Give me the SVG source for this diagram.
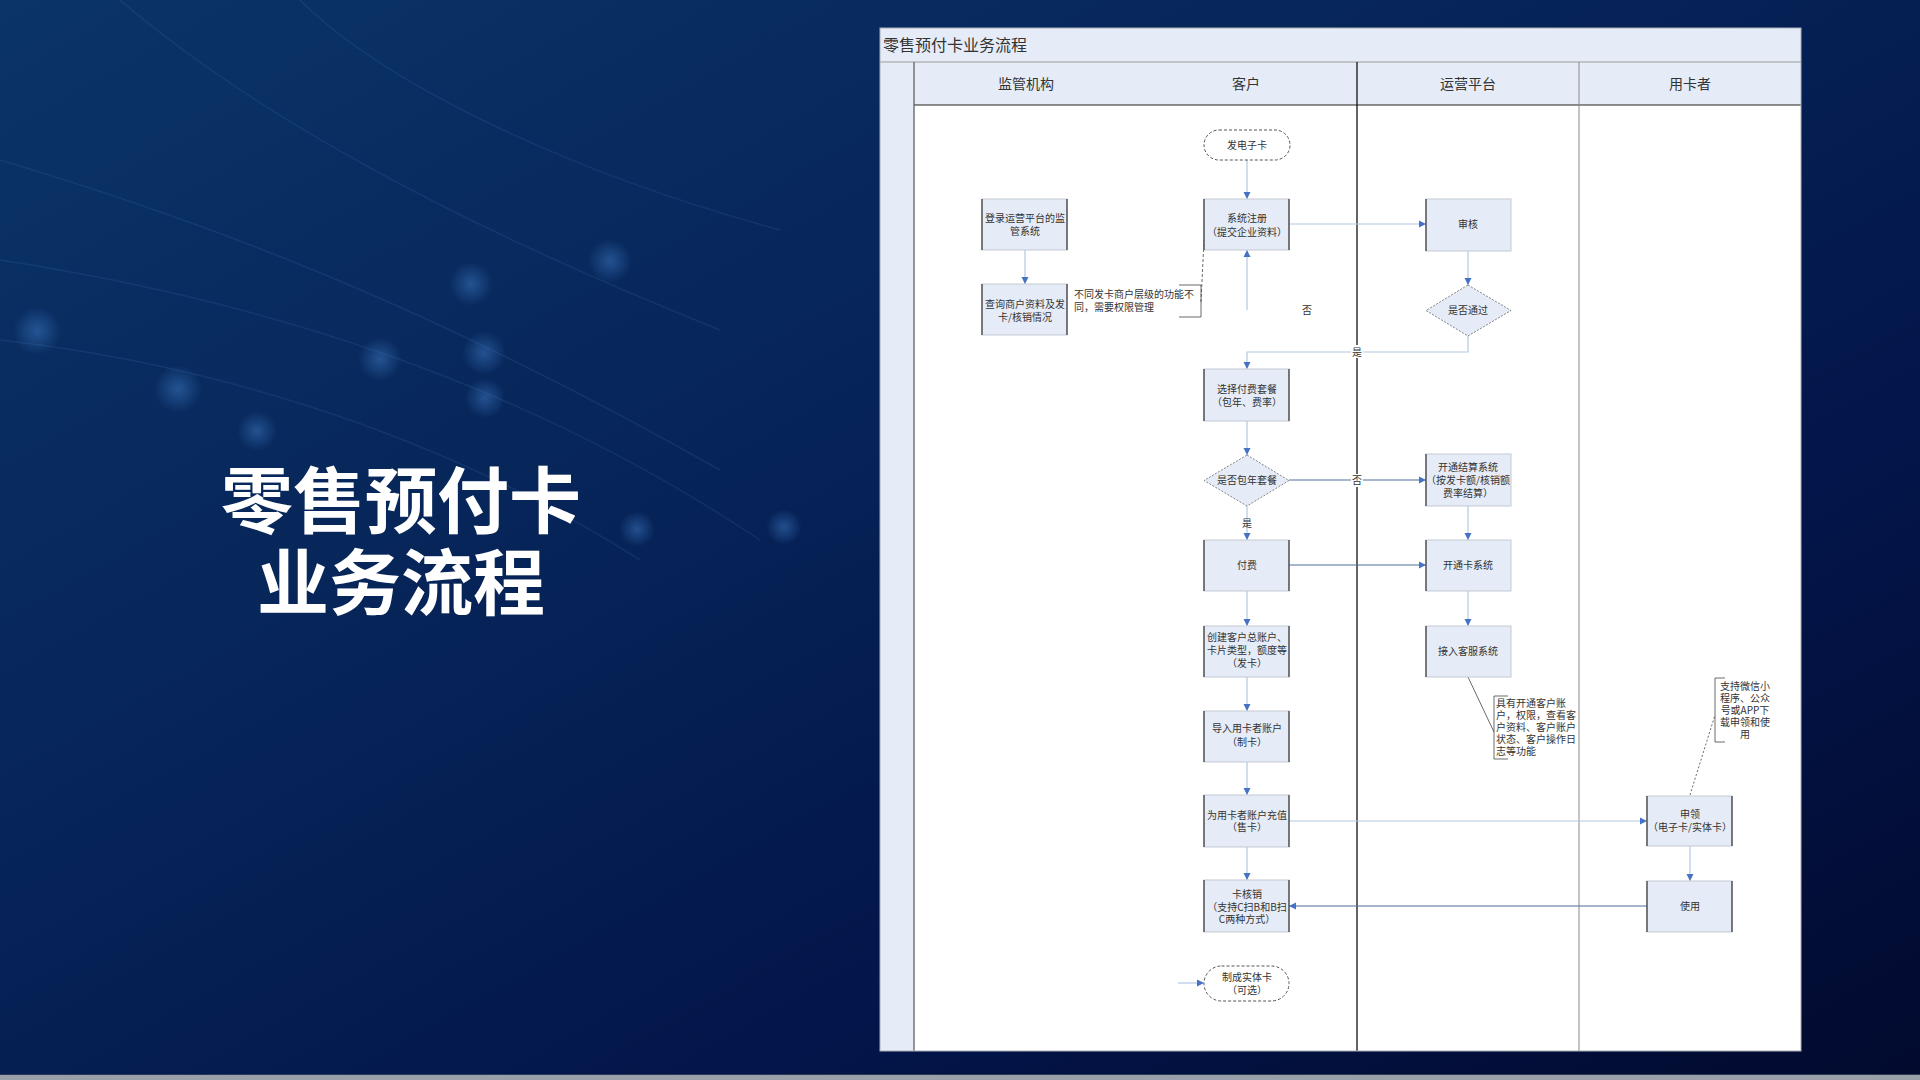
<svg xmlns="http://www.w3.org/2000/svg" width="1920" height="1080" viewBox="0 0 1920 1080">
<defs>
<linearGradient id="bg" x1="0" y1="0" x2="1" y2="1">
<stop offset="0" stop-color="#0b3468"/>
<stop offset="0.35" stop-color="#07265a"/>
<stop offset="0.7" stop-color="#03154a"/>
<stop offset="1" stop-color="#020a2e"/>
</linearGradient>
<radialGradient id="dot">
<stop offset="0" stop-color="#3f7cc4" stop-opacity="0.5"/>
<stop offset="1" stop-color="#3f7cc4" stop-opacity="0"/>
</radialGradient>
<marker id="ah" markerWidth="8" markerHeight="8" refX="7" refY="4" orient="auto" markerUnits="userSpaceOnUse">
<path d="M0,0.5 L7,4 L0,7.5 Z" fill="#4472c4"/>
</marker>
<style>
.box{fill:#e6ecf7;stroke:#c3c9d3;stroke-width:1}
.edge{fill:none;stroke:#333;stroke-width:1.2}
.term{fill:#ffffff;stroke:#555;stroke-width:1;stroke-dasharray:3 2}
.dia{fill:#e6ecf7;stroke:#666;stroke-width:0.8;stroke-dasharray:2 1.5}
.t{font-family:"Noto Sans CJK SC","Noto Sans",sans-serif;font-size:10px;fill:#333;text-anchor:middle}
.ta{font-family:"Noto Sans CJK SC","Noto Sans",sans-serif;font-size:10px;fill:#333}
.hd{font-family:"Noto Sans CJK SC","Noto Sans",sans-serif;font-size:14px;fill:#333;text-anchor:middle}
.lc{fill:none;stroke:#b4c6e2;stroke-width:1.2}
.dc{fill:none;stroke:#4f6e9c;stroke-width:1.2}
.an{fill:none;stroke:#444;stroke-width:0.8}
</style>
</defs>
<rect x="0" y="0" width="1920" height="1080" fill="url(#bg)"/>
<g opacity="0.13" fill="none" stroke="#5a8fd0" stroke-width="1.5">
<path d="M0,160 C200,220 420,300 720,470"/>
<path d="M0,260 C260,300 520,380 760,540"/>
<path d="M120,0 C260,120 470,230 720,330"/>
<path d="M0,340 C180,360 420,420 640,560"/>
<path d="M300,0 C380,80 560,170 780,230"/>
</g>
<g>
<circle cx="610" cy="261" r="22" fill="url(#dot)"/>
<circle cx="471" cy="284" r="22" fill="url(#dot)"/>
<circle cx="380" cy="359" r="22" fill="url(#dot)"/>
<circle cx="484" cy="353" r="22" fill="url(#dot)"/>
<circle cx="485" cy="398" r="20" fill="url(#dot)"/>
<circle cx="178" cy="389" r="24" fill="url(#dot)"/>
<circle cx="257" cy="431" r="20" fill="url(#dot)"/>
<circle cx="37" cy="331" r="24" fill="url(#dot)"/>
<circle cx="637" cy="529" r="18" fill="url(#dot)"/>
<circle cx="784" cy="527" r="18" fill="url(#dot)"/>
</g>
<rect x="0" y="1075" width="1920" height="5" fill="#9aa0aa"/>
<rect x="0" y="1074" width="1920" height="1" fill="#2a3a50"/>

<g id="main-title">
<text font-family="'Noto Sans CJK SC','Noto Sans',sans-serif" font-weight="bold" font-size="72" fill="#ffffff" text-anchor="middle"><tspan x="401" y="527">零售预付卡</tspan><tspan x="401" y="609">业务流程</tspan></text>
</g>

<g id="panel">
<rect x="880" y="28" width="921" height="1023" fill="#ffffff"/>
<rect x="880" y="28" width="921" height="77" fill="#e6ecf7"/>
<rect x="880" y="105" width="34" height="946" fill="#e6ecf7"/>
<line x1="880" y1="62" x2="1801" y2="62" stroke="#9a9a9a" stroke-width="1"/>
<line x1="914" y1="105" x2="1801" y2="105" stroke="#222" stroke-width="1.2"/>
<line x1="914" y1="62" x2="914" y2="1051" stroke="#555" stroke-width="1.2"/>
<line x1="1357" y1="62" x2="1357" y2="1051" stroke="#111" stroke-width="1.3"/>
<line x1="1579" y1="62" x2="1579" y2="1051" stroke="#888" stroke-width="1"/>
<rect x="880" y="28" width="921" height="1023" fill="none" stroke="#a8adb5" stroke-width="1"/>
<text x="883" y="51" font-family="'Noto Sans CJK SC','Noto Sans',sans-serif" font-size="16" fill="#333">零售预付卡业务流程</text>
<text class="hd" x="1026" y="89">监管机构</text>
<text class="hd" x="1246" y="89">客户</text>
<text class="hd" x="1468" y="89">运营平台</text>
<text class="hd" x="1690" y="89">用卡者</text>
</g>

<g id="connectors">
<path class="lc" d="M1247,160 V199" marker-end="url(#ah)"/>
<path class="lc" d="M1025,250 V284" marker-end="url(#ah)"/>
<path class="lc" d="M1290,224 H1426" marker-end="url(#ah)"/>
<path class="lc" d="M1468,251 V285" marker-end="url(#ah)"/>
<path class="lc" d="M1247,310 V250" marker-end="url(#ah)"/>
<path class="lc" d="M1468,336 V352 H1247 V369" marker-end="url(#ah)"/>
<path class="lc" d="M1247,421 V455" marker-end="url(#ah)"/>
<path class="dc" d="M1289,480 H1426" marker-end="url(#ah)"/>
<path class="lc" d="M1247,506 V540" marker-end="url(#ah)"/>
<path class="dc" d="M1289,565 H1426" marker-end="url(#ah)"/>
<path class="lc" d="M1468,506 V540" marker-end="url(#ah)"/>
<path class="lc" d="M1247,591 V626" marker-end="url(#ah)"/>
<path class="lc" d="M1468,591 V626" marker-end="url(#ah)"/>
<path class="lc" d="M1247,677 V711" marker-end="url(#ah)"/>
<path class="lc" d="M1247,762 V795" marker-end="url(#ah)"/>
<path class="lc" d="M1289,821 H1647" stroke="#d8dde5" marker-end="url(#ah)"/>
<path class="lc" d="M1690,846 V881" marker-end="url(#ah)"/>
<path class="dc" d="M1647,906 H1289" marker-end="url(#ah)"/>
<path class="lc" d="M1247,847 V880" marker-end="url(#ah)"/>
<path class="lc" d="M1178,983 H1204" marker-end="url(#ah)"/>
<path class="an" d="M1201,302 L1204,240" stroke-dasharray="3 2"/>
<path class="an" d="M1468,677 L1494,732" stroke="#666"/>
<path class="an" d="M1690,795 L1715,715" stroke-dasharray="2 2"/>
<rect x="1351" y="345" width="12" height="13" fill="#ffffff"/>
<text class="t" x="1357" y="355.5">是</text>
<text class="t" x="1307" y="313.5">否</text>
<rect x="1351" y="474" width="12" height="13" fill="#ffffff"/>
<text class="t" x="1357" y="483.5">否</text>
<text class="t" x="1247" y="526.5">是</text>
</g>

<g id="n-fadianzika">
<rect class="term" x="1204" y="130" width="86" height="30" rx="15"/>
<text class="t" x="1247" y="148.5">发电子卡</text>
</g>
<g id="n-denglu">
<rect class="box" x="982" y="199" width="85" height="51"/>
<path class="edge" d="M982,199 V250 M1067,199 V250"/>
<text class="t" x="1025" y="221.5">登录运营平台的监</text>
<text class="t" x="1025" y="234.5">管系统</text>
</g>
<g id="n-chaxun">
<rect class="box" x="982" y="284" width="85" height="51"/>
<path class="edge" d="M982,284 V335 M1067,284 V335"/>
<text class="t" x="1025" y="307.5">查询商户资料及发</text>
<text class="t" x="1025" y="320.5">卡/核销情况</text>
</g>
<g id="a-quanxian">
<path class="an" d="M1179,285 H1201 V317 H1179" stroke="#777"/>
<text class="ta" x="1074" y="297.5">不同发卡商户层级的功能不</text>
<text class="ta" x="1074" y="310.5">同，需要权限管理</text>
</g>
<g id="n-zhuce">
<rect class="box" x="1204" y="199" width="85" height="51"/>
<path class="edge" d="M1204,199 V250 M1289,199 V250"/>
<text class="t" x="1247" y="221.5">系统注册</text>
<text class="t" x="1247" y="235.5">（提交企业资料）</text>
</g>
<g id="n-shenhe">
<rect class="box" x="1426" y="199" width="85" height="52"/>
<path class="edge" d="M1426,199 V251"/>
<text class="t" x="1468" y="228">审核</text>
</g>
<g id="n-shifoutongguo">
<polygon class="dia" points="1468,285 1511,310.5 1468,336 1426,310.5"/>
<text class="t" x="1468" y="314">是否通过</text>
</g>
<g id="n-xuanze">
<rect class="box" x="1204" y="369" width="85" height="52"/>
<path class="edge" d="M1204,369 V421 M1289,369 V421"/>
<text class="t" x="1247" y="392.5">选择付费套餐</text>
<text class="t" x="1247" y="405.5">（包年、费率）</text>
</g>
<g id="n-baonian">
<polygon class="dia" points="1247,455 1289,480.5 1247,506 1204,480.5"/>
<text class="t" x="1247" y="484">是否包年套餐</text>
</g>
<g id="n-jiesuan">
<rect class="box" x="1426" y="454" width="85" height="52"/>
<path class="edge" d="M1426,454 V506"/>
<text class="t" x="1468" y="470.5">开通结算系统</text>
<text class="t" x="1468" y="483.5">（按发卡额/核销额</text>
<text class="t" x="1468" y="496.5">费率结算）</text>
</g>
<g id="n-fufei">
<rect class="box" x="1204" y="540" width="85" height="51"/>
<path class="edge" d="M1204,540 V591 M1289,540 V591"/>
<text class="t" x="1247" y="568.5">付费</text>
</g>
<g id="n-kaxitong">
<rect class="box" x="1426" y="540" width="85" height="51"/>
<path class="edge" d="M1426,540 V591"/>
<text class="t" x="1468" y="568.5">开通卡系统</text>
</g>
<g id="n-chuangjian">
<rect class="box" x="1204" y="626" width="85" height="51"/>
<path class="edge" d="M1204,626 V677 M1289,626 V677"/>
<text class="t" x="1247" y="641">创建客户总账户、</text>
<text class="t" x="1247" y="654">卡片类型，额度等</text>
<text class="t" x="1247" y="667">（发卡）</text>
</g>
<g id="n-kefu">
<rect class="box" x="1426" y="626" width="85" height="51"/>
<path class="edge" d="M1426,626 V677"/>
<text class="t" x="1468" y="654.5">接入客服系统</text>
</g>
<g id="a-kefu">
<path class="an" d="M1508,696 H1494 V759 H1508" stroke="#555"/>
<text class="ta" x="1496" y="706.5">具有开通客户账</text>
<text class="ta" x="1496" y="718.5">户，权限，查看客</text>
<text class="ta" x="1496" y="730.5">户资料、客户账户</text>
<text class="ta" x="1496" y="742.5">状态、客户操作日</text>
<text class="ta" x="1496" y="754.5">志等功能</text>
</g>
<g id="n-daoru">
<rect class="box" x="1204" y="711" width="85" height="51"/>
<path class="edge" d="M1204,711 V762 M1289,711 V762"/>
<text class="t" x="1247" y="732">导入用卡者账户</text>
<text class="t" x="1247" y="746">（制卡）</text>
</g>
<g id="n-chongzhi">
<rect class="box" x="1204" y="795" width="85" height="52"/>
<path class="edge" d="M1204,795 V847 M1289,795 V847"/>
<text class="t" x="1247" y="818.5">为用卡者账户充值</text>
<text class="t" x="1247" y="831">（售卡）</text>
</g>
<g id="n-hexiao">
<rect class="box" x="1204" y="880" width="85" height="52"/>
<path class="edge" d="M1204,880 V932 M1289,880 V932"/>
<text class="t" x="1247" y="897.5">卡核销</text>
<text class="t" x="1247" y="910.5">（支持C扫B和B扫</text>
<text class="t" x="1247" y="923">C两种方式）</text>
</g>
<g id="n-shitika">
<rect class="term" x="1204" y="966" width="85" height="35" rx="17.5"/>
<text class="t" x="1247" y="980.5">制成实体卡</text>
<text class="t" x="1247" y="993.5">（可选）</text>
</g>
<g id="a-weixin">
<path class="an" d="M1725,678 H1715 V742 H1725" stroke="#555"/>
<text class="t" x="1745" y="689.5">支持微信小</text>
<text class="t" x="1745" y="701.5">程序、公众</text>
<text class="t" x="1745" y="713.5">号或APP下</text>
<text class="t" x="1745" y="725.5">载申领和使</text>
<text class="t" x="1745" y="737.5">用</text>
</g>
<g id="n-shenling">
<rect class="box" x="1647" y="796" width="85" height="50"/>
<path class="edge" d="M1647,796 V846 M1732,796 V846"/>
<text class="t" x="1690" y="817.5">申领</text>
<text class="t" x="1690" y="830.5">（电子卡/实体卡）</text>
</g>
<g id="n-shiyong">
<rect class="box" x="1647" y="881" width="85" height="51"/>
<path class="edge" d="M1647,881 V932 M1732,881 V932"/>
<text class="t" x="1690" y="909.5">使用</text>
</g>
</svg>
